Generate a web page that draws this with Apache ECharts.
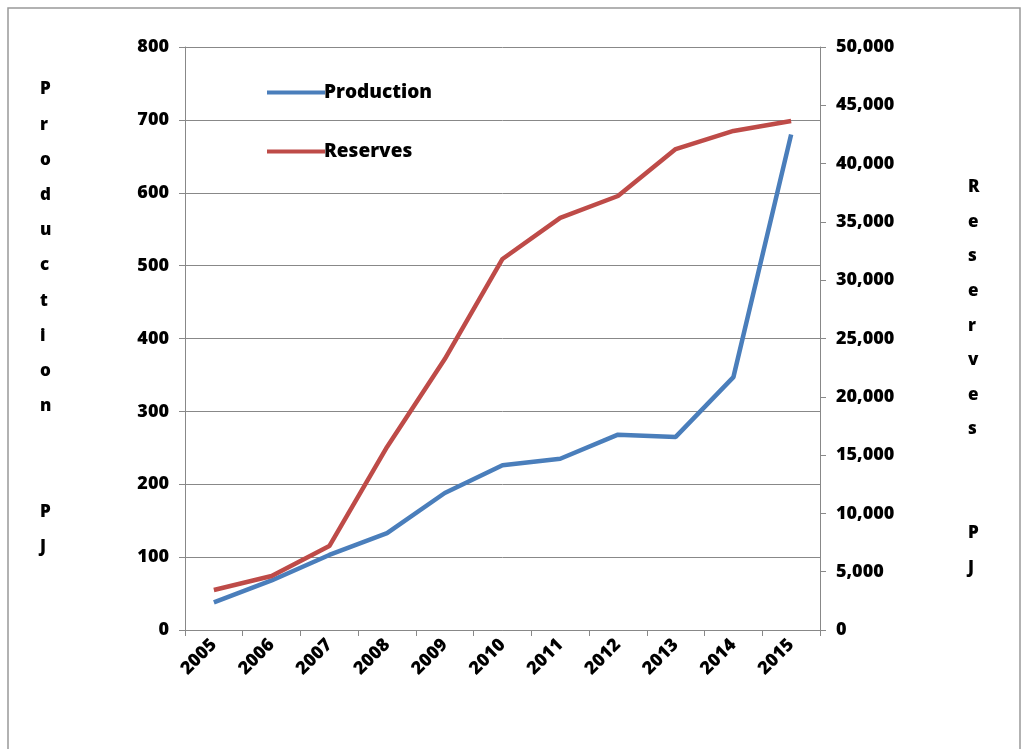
<!DOCTYPE html>
<html><head><meta charset="utf-8">
<script src="https://cdn.jsdelivr.net/npm/echarts@6/dist/echarts.min.js"></script>
<style>html,body{margin:0;background:#fff}#c{width:1025px;height:749px}</style>
</head><body><div id="c"></div>
<script>
const years = ['2005','2006','2007','2008','2009','2010','2011','2012','2013','2014','2015'];
const production = [38, 68, 103, 133, 188, 226, 235, 268, 265, 347, 680];
const reserves = [3430, 4630, 7200, 15700, 23240, 31820, 35340, 37220, 41250, 42800, 43650];
const font = 'Open Sans';

const chart = echarts.init(document.getElementById('c'));
const axisLbl = { color: '#000', fontFamily: font, fontWeight: 800, fontSize: 18 };
chart.setOption({
  animation: false,
  grid: { left: 185, right: 205, top: 47, bottom: 119 },
  graphic: [
    { type: 'rect', shape: { x: 8, y: 8, width: 1012, height: 760 }, style: { fill: 'none', stroke: '#999', lineWidth: 1.5 } },
    { type: 'text', left: 40, top: 72, style: { text: 'P\nr\no\nd\nu\nc\nt\ni\no\nn\n\n\nP\nJ', font: '800 17px "Open Sans"', lineHeight: 35.2, fill: '#000', align: 'center' } },
    { type: 'text', left: 968, top: 170, style: { text: 'R\ne\ns\ne\nr\nv\ne\ns\n\n\nP\nJ', font: '800 17px "Open Sans"', lineHeight: 34.6, fill: '#000', align: 'center' } }
  ],
  legend: {
    left: 262, top: 78, orient: 'vertical', itemGap: 40, itemWidth: 58, itemHeight: 4,
    icon: 'rect',
    textStyle: { color: '#000', fontFamily: font, fontWeight: 800, fontSize: 19, padding: [0, 0, 0, -6] },
    data: ['Production', 'Reserves']
  },
  xAxis: {
    type: 'category', data: years, boundaryGap: true,
    axisLine: { lineStyle: { color: '#888' } },
    axisTick: { show: true, length: 6, lineStyle: { color: '#888' } },
    axisLabel: Object.assign({ rotate: 45, margin: 12 }, axisLbl)
  },
  yAxis: [
    { type: 'value', min: 0, max: 800, interval: 100,
      axisLine: { show: true, lineStyle: { color: '#888' } },
      axisTick: { show: true, length: 6, lineStyle: { color: '#888' } },
      splitLine: { lineStyle: { color: '#888', width: 1 } },
      axisLabel: Object.assign({ margin: 16 }, axisLbl) },
    { type: 'value', min: 0, max: 50000, interval: 5000,
      axisLine: { show: true, lineStyle: { color: '#888' } },
      axisTick: { show: true, length: 6, lineStyle: { color: '#888' } },
      splitLine: { show: false },
      axisLabel: Object.assign({ margin: 16, formatter: v => v.toLocaleString('en-US') }, axisLbl) }
  ],
  series: [
    { name: 'Production', type: 'line', data: production, yAxisIndex: 0, showSymbol: false,
      lineStyle: { color: '#4a7ebb', width: 4.5 }, itemStyle: { color: '#4a7ebb' } },
    { name: 'Reserves', type: 'line', data: reserves, yAxisIndex: 1, showSymbol: false,
      lineStyle: { color: '#be4b48', width: 4.5 }, itemStyle: { color: '#be4b48' } }
  ]
});
</script></body></html>
